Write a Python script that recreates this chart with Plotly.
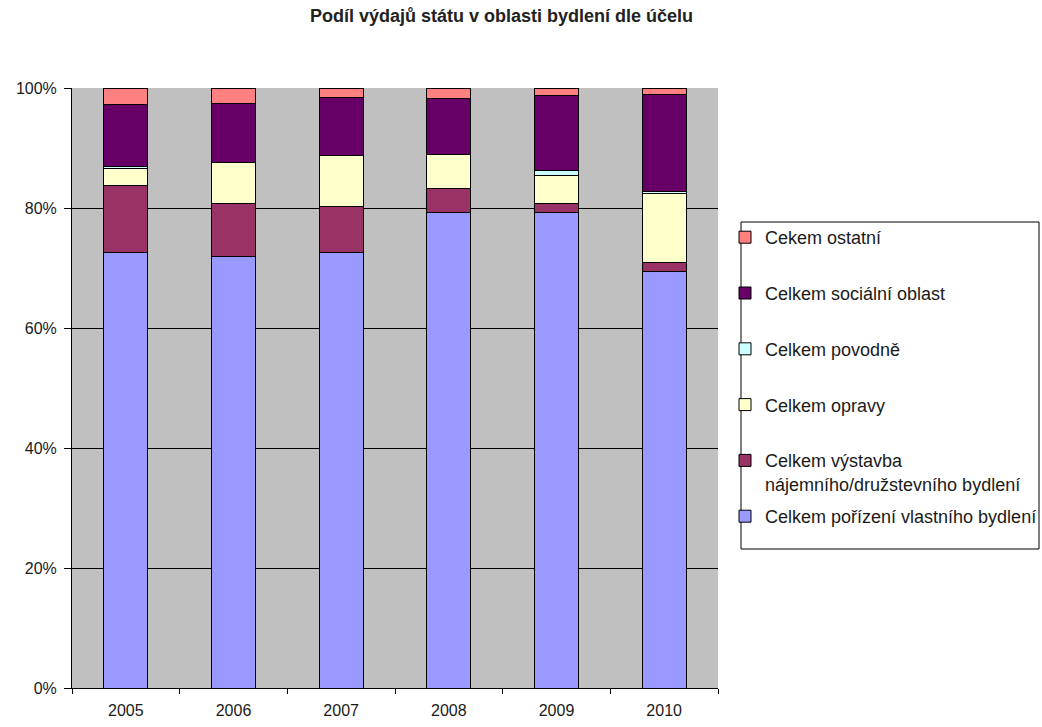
import plotly.graph_objects as go

# Years on the category axis
years = ["2005", "2006", "2007", "2008", "2009", "2010"]

# Share of state housing expenditure by purpose, percent of yearly total
vlastni = [72.6, 71.9, 72.6, 79.2, 79.2, 69.4]
vystavba = [11.2, 8.9, 7.7, 4.0, 1.6, 1.5]
opravy = [2.8, 6.8, 8.5, 5.7, 4.6, 11.5]
povodne = [0.4, 0.0, 0.0, 0.0, 0.8, 0.4]
socialni = [10.3, 9.9, 9.6, 9.3, 12.6, 16.1]
ostatni = [2.7, 2.5, 1.6, 1.8, 1.2, 1.1]

series = [
    ("Celkem pořízení vlastního bydlení", vlastni, "#9999FF"),
    ("Celkem výstavba<br>nájemního/družstevního bydlení", vystavba, "#993366"),
    ("Celkem opravy", opravy, "#FFFFCC"),
    ("Celkem povodně", povodne, "#CCFFFF"),
    ("Celkem sociální oblast", socialni, "#660066"),
    ("Cekem ostatní", ostatni, "#FF8080"),
]

FONT = "Liberation Sans, Arial, sans-serif"

fig = go.Figure()
n = len(series)
for i, (name, vals, color) in enumerate(series):
    # every legend entry occupies two lines so the rows are evenly spaced
    label = name if "<br>" in name else name + "<br>\u00a0"
    fig.add_trace(go.Bar(
        x=years, y=vals, name=label,
        legendgroup=f"g{i}", legendrank=n - i,
        marker=dict(color=color, line=dict(color="black", width=1)),
    ))

# legend frame
fig.add_shape(
    type="rect", xref="paper", yref="paper",
    x0=(741 - 72) / 646, x1=(1039 - 72) / 646,
    y0=(688 - 549) / 600, y1=(688 - 222) / 600,
    line=dict(color="black", width=1), fillcolor="rgba(0,0,0,0)",
    layer="above",
)

fig.update_layout(
    width=1042, height=727,
    barmode="stack", bargap=0.59,
    paper_bgcolor="white", plot_bgcolor="#C0C0C0",
    margin=dict(l=72, r=324, t=88, b=39, autoexpand=False),
    font=dict(family=FONT, size=16, color="#1a1a1a"),
    title=dict(
        text="<b>Podíl výdajů státu v oblasti bydlení dle účelu</b>",
        x=0.4813, xanchor="center", y=0.979, yanchor="middle",
        font=dict(family=FONT, size=18, color="#222222"),
    ),
    legend=dict(
        xref="container", yref="container",
        x=725 / 1042, xanchor="left", y=1 - 219 / 727, yanchor="top",
        traceorder="grouped", valign="top",
        tracegroupgap=6,
        borderwidth=0, bgcolor="rgba(0,0,0,0)",
        font=dict(family=FONT, size=18, color="#1a1a1a"),
    ),
    showlegend=True,
)

fig.update_xaxes(
    type="category", showgrid=False, automargin=False,
    showline=True, linecolor="black", linewidth=1,
    ticks="outside", tickson="boundaries", ticklen=5, tickcolor="black",
    ticklabelstandoff=8,
)
fig.update_yaxes(
    range=[0, 100], dtick=20, ticksuffix="%", automargin=False,
    showgrid=True, gridcolor="black", gridwidth=1,
    showline=True, linecolor="black", linewidth=1,
    ticks="outside", ticklen=7, tickcolor="black",
    ticklabelstandoff=4,
    zeroline=False,
)

fig.write_html("out.html")
